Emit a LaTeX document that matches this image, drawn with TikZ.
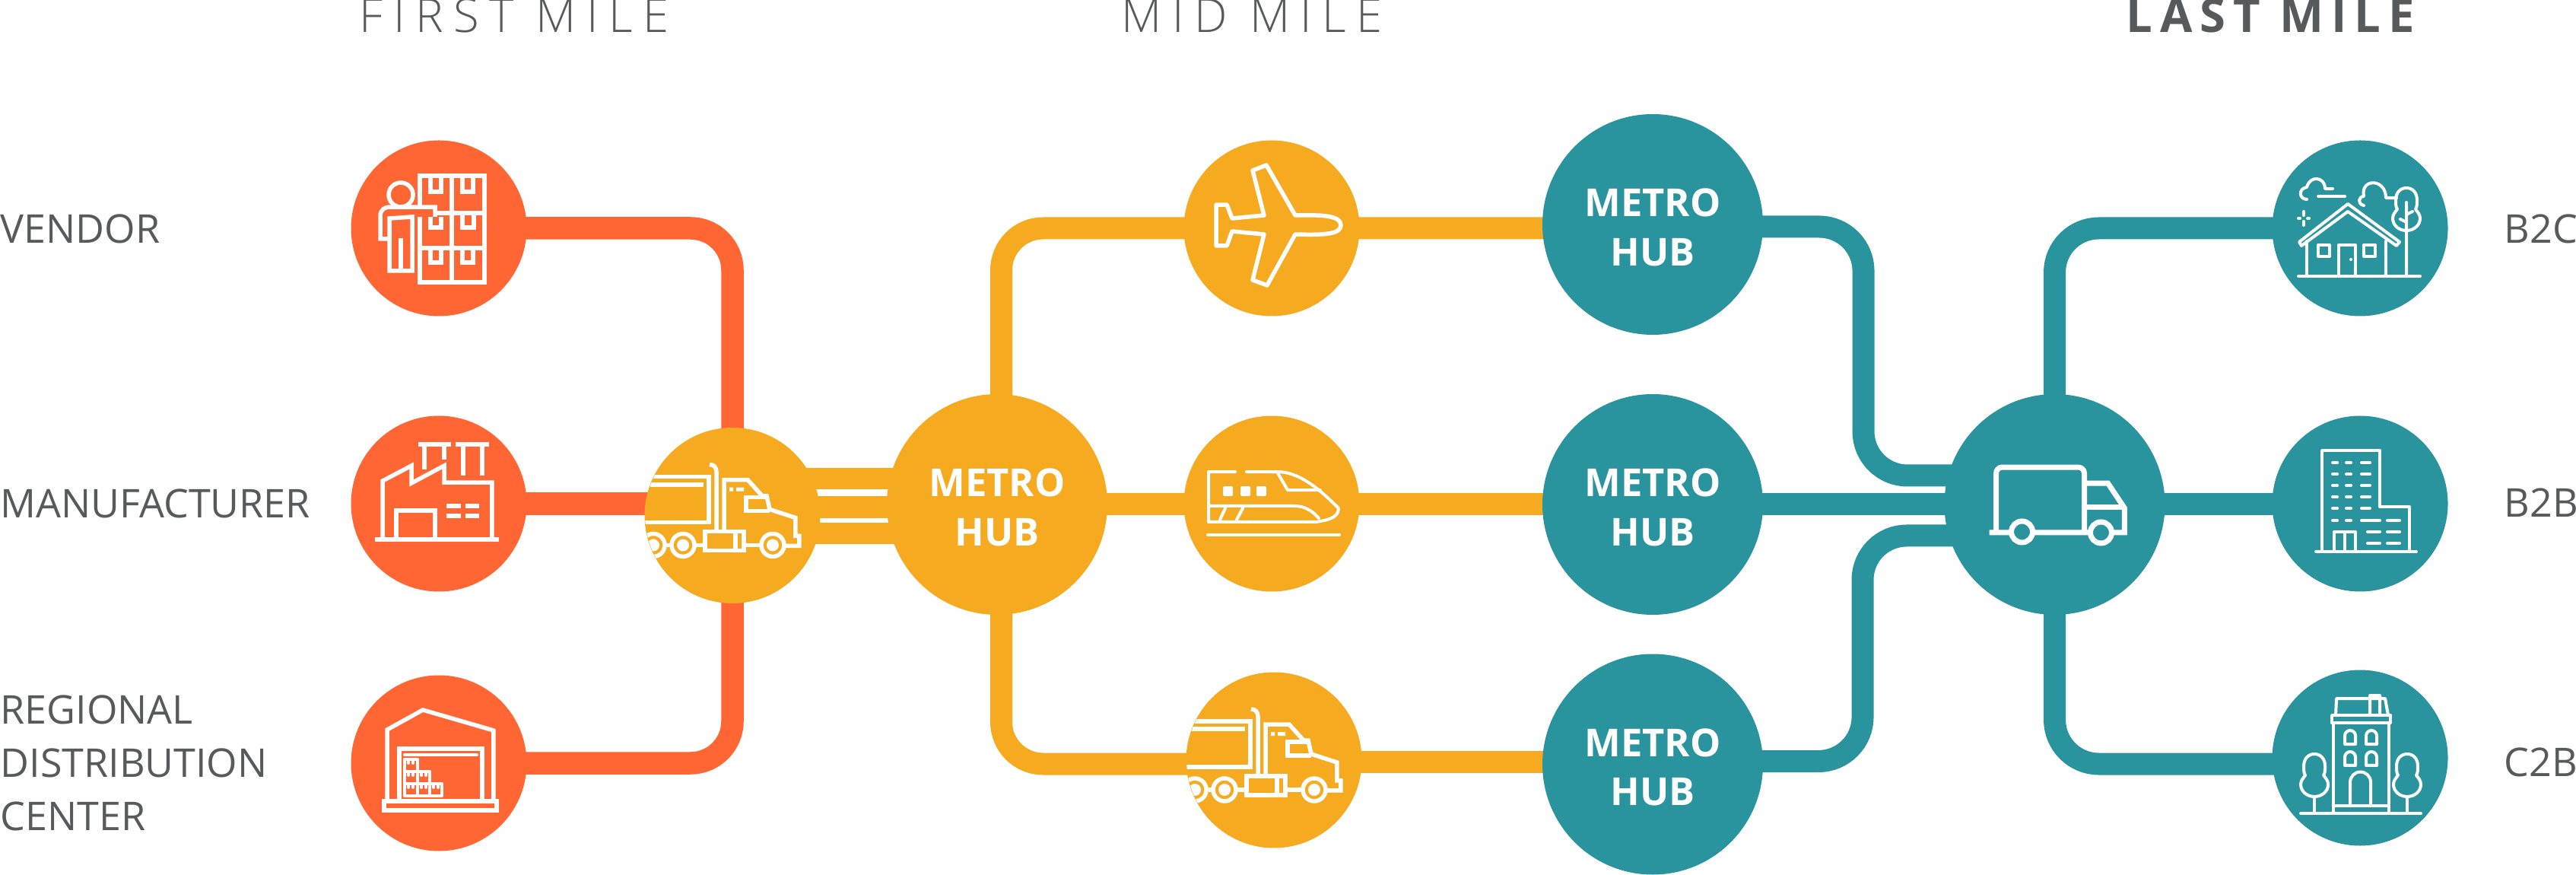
\documentclass[tikz,border=0pt]{standalone}
\usepackage{fontspec}
\setmainfont{Open Sans}
\newfontfamily\headthin{Open Sans Light}[LetterSpace=22]
\newfontfamily\headbold{Open Sans}[LetterSpace=16]
\usepackage{tikz}
\usetikzlibrary{backgrounds}
\definecolor{orangehub}{HTML}{FF6633}
\definecolor{amberhub}{HTML}{F6AA20}
\definecolor{tealhub}{HTML}{29939E}
\definecolor{textgray}{HTML}{58595B}
\tikzset{
  stopnode/.style={circle,minimum size=2.31cm,inner sep=0pt},
  metronode/.style={circle,minimum size=2.9cm,inner sep=0pt,align=center,text=white,
    text height=31pt,font=\bfseries\fontsize{14.4}{18.4}\selectfont},
  sidelabel/.style={anchor=base west,inner sep=0pt,text=textgray,
    font=\fontsize{14.8}{20}\selectfont},
  orangelink/.style={draw=orangehub,line width=0.295cm,rounded corners=0.55cm},
  amberlink/.style={draw=amberhub,line width=0.29cm,rounded corners=0.55cm},
  teallink/.style={draw=tealhub,line width=0.29cm,rounded corners=0.58cm},
  iconline/.style={draw=white,line width=0.055cm},
  iconthin/.style={draw=white,line width=0.04cm,line cap=round,line join=round},
  every pic/.style={x=0.01cm,y=-0.01cm},
  pics/shelficon/.style={code={
    \draw[iconline] (-25,-28) -- (-25,-69) -- (60,-69) -- (60,71) -- (-25,71) -- (-25,-15);
    \draw[iconline] (17,-69) -- (17,71) (-5,-20) -- (60,-20) (-25,26) -- (60,26);
    \foreach \tabx in {-11,31} {
      \draw[iconline] (\tabx,-69) |- (\tabx+14,-48) -- (\tabx+14,-69);
      \draw[iconline] (\tabx,26) |- (\tabx+14,45) -- (\tabx+14,26);
    }
    \draw[iconline] (-11,-15) |- (3,-1) -- (3,-15) (31,-20) |- (46,-1) -- (46,-20);
    \draw[iconline] (-50,-44) circle (16);
    \draw[iconline] (-5,-15) -- (-5,-28) -- (-63,-28) .. controls (-72,-28) and (-77,-24) .. (-77,-16)
      -- (-77,14) -- (-65,14) (-65,-13) -- (-65,56) -- (-35,56) -- (-35,-15) -- cycle;
    \draw[iconline] (-50,13) -- (-50,56);
  }},
  pics/factoryicon/.style={code={
    \draw[iconline] (-84,47) -- (79,47);
    \draw[iconline] (-74,47) -- (-74,-30) -- (-36,-50) -- (-36,-27) -- (7,-50) -- (7,-28) -- (70,-28) -- (70,47);
    \draw[iconline] (-56,47) |- (-5,9) -- (-5,47);
    \draw[iconline] (10,3) -- (29,3) (35,3) -- (53,3) (10,16) -- (29,16) (35,16) -- (53,16);
    \draw[iconline] (-27,-78) -- (16,-78) (22,-78) -- (66,-78);
    \draw[iconline] (-19,-78) -- (-19,-45) (7,-78) -- (7,-58) (32,-78) -- (32,-37) (57,-78) -- (57,-37);
  }},
  pics/storeicon/.style={code={
    \draw[iconline] (-68,50) -- (-68,-44) -- (-21,-70) -- (72,-43) -- (72,50);
    \draw[iconline] (-72,50) rectangle (76,62);
    \draw[iconline] (-52,50) |- (57,-19) -- (57,50);
    \draw[iconthin] (-45,-11) -- (50,-11);
    \draw[iconthin] (-45,43) |- (-28,-5) -- (-28,43) (-45,27) -| (4,43) -- (-45,43)
      (-45,11) -| (-12,43);
    \foreach \boxx/\boxy in {-37/-2,-37/14,-37/30,-20/14,-20/30,-4/30}
      \draw[iconthin] (\boxx-3,\boxy) -- (\boxx-3,\boxy+2) (\boxx+3,\boxy) -- (\boxx+3,\boxy+2);
  }},
  pics/truckicon/.style={code={
    \begin{scope}
      \clip (0,0) circle (115);
      \draw[iconline] (-130,-51) -- (-31,-51) -- (-31,9) -- (-130,9);
      \draw[iconline,line width=0.06cm] (-108,-41) -- (-38,-41);
      \draw[iconline] (-30,-67) .. controls (-24,-67) and (-21,-63) .. (-21,-57) -- (-21,20);
      \draw[iconline] (-11,20) -- (-11,-47) -- (20,-47) -- (39,-26) -- (45,-26) -- (49,-8) -- (83,3)
        -- (83,27) -- (88,27) -- (88,40) -- (70,40);
      \draw[iconline] (45,-24) -- (18,-24) -- (18,-6) -- (49,-6);
      \fill[white] (-4,-37) rectangle (1,-32) (5,-37) rectangle (15,-32);
      \draw[iconline] (-36,21) rectangle (15,46) (4,21) -- (4,46);
      \draw[iconline] (15,39) -- (36,39) (-48,39) -- (-37,39) (-86,39) -- (-81,39);
      \foreach \wheelx in {53,-65,-104} {
        \draw[iconline] (\wheelx,39) circle (15);
        \fill[white] (\wheelx,39) circle (8);
      }
    \end{scope}
  }},
  pics/planeicon/.style={code={
    \draw[iconline,line width=0.055cm,line join=round] (31,-17) -- (-7,-83) -- (-25,-76) -- (-10,-17) -- (-52,-13)
      -- (-59,-31) -- (-73,-31) -- (-73,23) -- (-59,23) -- (-52,4) -- (-10,8) -- (-25,68) -- (-6,75) -- (31,8)
      .. controls (70,9) and (91,8) .. (91,-4) .. controls (91,-16) and (70,-18) .. cycle;
  }},
  pics/trainicon/.style={code={
    \draw[iconthin] (-84,41) -- (89,41);
    \draw[iconthin] (-48,-42) -- (-83,-42) -- (-83,24) -- (58,24) .. controls (70,22) and (88,20) .. (88,6)
      .. controls (60,-22) and (35,-42) .. (7,-42) -- (-33,-42);
    \draw[iconthin] (-83,3) -- (30,3) .. controls (44,3) and (54,10) .. (62,19);
    \draw[iconthin] (7,-42) -- (21,-18) -- (64,-18);
    \draw[iconthin] (-61,6) -- (-68,21) (-38,6) -- (-46,21);
    \foreach \winx in {-64,-41,-20}
      \fill[white,rounded corners=0.02cm] (\winx,-23) rectangle (\winx+13,-10);
  }},
  pics/vanicon/.style={code={
    \draw[draw=white,line width=0.07cm,rounded corners=0.08cm] (-77,37) -- (-77,-49) -- (39,-49) -- (39,37);
    \draw[draw=white,line width=0.07cm] (-86,37) -- (92,37) -- (92,5) -- (70,-28) -- (39,-28);
    \draw[draw=white,line width=0.07cm] (39,4) -- (92,4);
    \draw[draw=white,line width=0.07cm,fill=tealhub] (-43,36) circle (14) (61,37) circle (14);
  }},
  pics/crownicon/.style={code={
    \draw[iconthin] (0,28) .. controls (-10,28) and (-18,21) .. (-18,12) .. controls (-18,7) and (-15,4) .. (-12,0)
      .. controls (-14,-3) and (-14,-7) .. (-14,-12) .. controls (-14,-22) and (-8,-28) .. (0,-28)
      .. controls (8,-28) and (14,-22) .. (14,-12) .. controls (14,-7) and (14,-3) .. (12,0)
      .. controls (15,4) and (18,7) .. (18,12) .. controls (18,21) and (10,28) .. cycle;
  }},
  pics/houseicon/.style={code={
    \draw[iconthin] (-81,63) -- (79,63) (-70,17) -- (-70,63) (34,17) -- (34,63);
    \draw[iconthin] (-80,18) -- (-16,-32) -- (52,18) -- (48,23) -- (-16,-22) -- (-77,23) -- cycle;
    \draw[iconthin] (-55,22) rectangle (-40,37) (5,22) rectangle (20,37) (-28,63) |- (-6,22) -- (-6,63);
    \fill[white] (-12,41) circle (2);
    \pic at (61,-25) {crownicon};
    \draw[iconthin] (61,-34) -- (61,63) (61,-18) -- (69,-22) (61,-8) -- (53,-12);
    \draw[iconthin] (-70,-38) .. controls (-80,-38) and (-82,-52) .. (-70,-54)
      .. controls (-66,-70) and (-46,-68) .. (-46,-52) -- (-36,-52);
    \draw[iconthin] (-55,-42) -- (-20,-42);
    \draw[iconthin] (5,-30) .. controls (-4,-32) and (-2,-42) .. (5,-42)
      .. controls (0,-66) and (34,-66) .. (34,-40) -- (48,-40);
    \draw[iconthin] (-74,-22) -- (-74,-17) (-74,-9) -- (-74,-4) (-81,-13) -- (-79,-13) (-69,-13) -- (-67,-13);
  }},
  pics/officeicon/.style={code={
    \draw[iconthin] (-58,63) -- (74,63) (-50,63) -- (-50,-70) -- (26,-70) -- (26,4) -- (65,4) -- (65,63);
    \draw[iconthin] (-34,63) |- (-6,37) -- (-6,63) (-20,37) -- (-20,63);
    \foreach \rowy in {-54,-39,-24,-9,6,22}
      \draw[iconthin] (-36,\rowy) -- (-30,\rowy) (-18,\rowy) -- (-12,\rowy) (2,\rowy) -- (13,\rowy);
    \foreach \rowy in {22,37,52}
      \draw[iconthin] (10,\rowy) -- (26,\rowy) (36,\rowy) -- (52,\rowy);
  }},
  pics/townicon/.style={code={
    \draw[iconthin] (-78,73) -- (80,73) (-35,63) -- (38,63) (-35,73) -- (-35,-46) (38,73) -- (38,-46);
    \draw[iconthin] (-37,-56) rectangle (40,-46);
    \draw[iconthin] (-32,-56) -- (-31,-78) -- (33,-78) -- (37,-56) (13,-56) |- (26,-82) -- (26,-56);
    \foreach \winx/\winy in {-20/-18,8/-18,-20/10,8/10}
      \draw[iconthin] (\winx,\winy) -- (\winx,\winy-11) arc (180:360:7) -- (\winx+14,\winy) -- cycle;
    \draw[iconthin] (-13,63) -- (-13,32) arc (180:360:13.5) -- (14,63);
    \foreach \treex in {-60,62} {
      \pic at (\treex,23) {crownicon};
      \draw[iconthin] (\treex,51) -- (\treex,73);
    }
  }},
}

\begin{document}
\begin{tikzpicture}
\useasboundingbox (0,0) rectangle (33.87,-11.5);

% headings
\node[anchor=base west,inner sep=0pt,text=textgray,font=\headthin\fontsize{17.5}{20}\selectfont] (firsthead) at (4.72,-0.43) {FIRST MILE};
\node[anchor=base west,inner sep=0pt,text=textgray,font=\headthin\fontsize{17.5}{20}\selectfont] (midhead) at (14.74,-0.43) {MID MILE};
\node[anchor=base west,inner sep=0pt,text=textgray,font=\headbold\bfseries\fontsize{17.5}{20}\selectfont] (lasthead) at (27.95,-0.43) {LAST MILE};

% labels
\node[sidelabel] (vendorlabel) at (0,-3.20) {VENDOR};
\node[sidelabel] (factorylabel) at (0,-6.81) {MANUFACTURER};
\node[sidelabel,anchor=west,align=left] (storelabel) at (0,-10.03) {REGIONAL\\DISTRIBUTION\\CENTER};
\node[sidelabel] (houselabel) at (32.92,-3.20) {B2C};
\node[sidelabel] (officelabel) at (32.92,-6.80) {B2B};
\node[sidelabel] (townlabel) at (32.92,-10.20) {C2B};

% first mile
\node[stopnode,fill=orangehub] (vendor) at (5.77,-3.00) {};
\node[stopnode,fill=orangehub] (factory) at (5.77,-6.62) {};
\node[stopnode,fill=orangehub] (store) at (5.77,-10.03) {};
\node[stopnode,fill=amberhub] (truckA) at (9.63,-6.775) {};

% mid mile
\node[metronode,fill=amberhub] (hubA) at (13.11,-6.63) {METRO\\HUB};
\node[stopnode,fill=amberhub] (planeA) at (16.72,-3.00) {};
\node[stopnode,fill=amberhub] (trainA) at (16.72,-6.62) {};
\node[stopnode,fill=amberhub] (truckB) at (16.75,-9.99) {};
\node[metronode,fill=tealhub] (metroA) at (21.73,-2.95) {METRO\\HUB};
\node[metronode,fill=tealhub] (metroB) at (21.73,-6.63) {METRO\\HUB};
\node[metronode,fill=tealhub] (metroC) at (21.73,-10.045) {METRO\\HUB};

% last mile
\node[metronode,fill=tealhub] (vanA) at (27.015,-6.63) {};
\node[stopnode,fill=tealhub] (houseA) at (31.03,-3.00) {};
\node[stopnode,fill=tealhub] (officeA) at (31.03,-6.62) {};
\node[stopnode,fill=tealhub] (townA) at (31.03,-9.96) {};
\coordinate (vanupper) at (24.50,-6.25);
\coordinate (vanlower) at (24.49,-7.04);

\begin{scope}[on background layer]
  \draw[orangelink] (vendor.center) -| (truckA.center);
  \draw[orangelink] (factory.center) -- (factory.center -| truckA.center);
  \draw[orangelink] (store.center) -| (truckA.center);

  \foreach \gapy in {3.4mm,-0.35mm,-3.8mm}
    \draw[amberlink,line width=0.285cm] ([yshift=\gapy]hubA.center) -- ([yshift=\gapy]hubA.center -| truckA.center);
  \draw[amberlink] ([xshift=0.55mm]hubA.center) |- (planeA.center) -- (planeA.center -| metroA.center);
  \draw[amberlink] (hubA.center) -- (hubA.center -| metroB.center);
  \draw[amberlink] ([xshift=0.55mm]hubA.center) |- ([yshift=-0.5mm]truckB.center);
  \draw[amberlink] ([yshift=-0.2mm]truckB.center) -- ([yshift=-0.2mm]truckB.center -| metroC.center);

  \draw[teallink] ([yshift=-0.3mm]metroA.center) -| (vanupper) -- (vanupper -| vanA.center);
  \draw[teallink] (metroB.center) -- (vanA.center);
  \draw[teallink] ([yshift=0.4mm]metroC.center) -| (vanlower) -- (vanlower -| vanA.center);
  \draw[teallink] (vanA.center) |- (houseA.center);
  \draw[teallink] (vanA.center) -- (vanA.center -| officeA.center);
  \draw[teallink] (vanA.center) |- ([yshift=-0.8mm]townA.center);
\end{scope}

\pic at (vendor) {shelficon};
\pic at (factory) {factoryicon};
\pic at (store) {storeicon};
\pic at (truckA) {truckicon};
\pic at (planeA) {planeicon};
\pic at (trainA) {trainicon};
\pic at (truckB) {truckicon};
\pic at (vanA) {vanicon};
\pic at (houseA) {houseicon};
\pic at (officeA) {officeicon};
\pic at (townA) {townicon};
\end{tikzpicture}
\end{document}
